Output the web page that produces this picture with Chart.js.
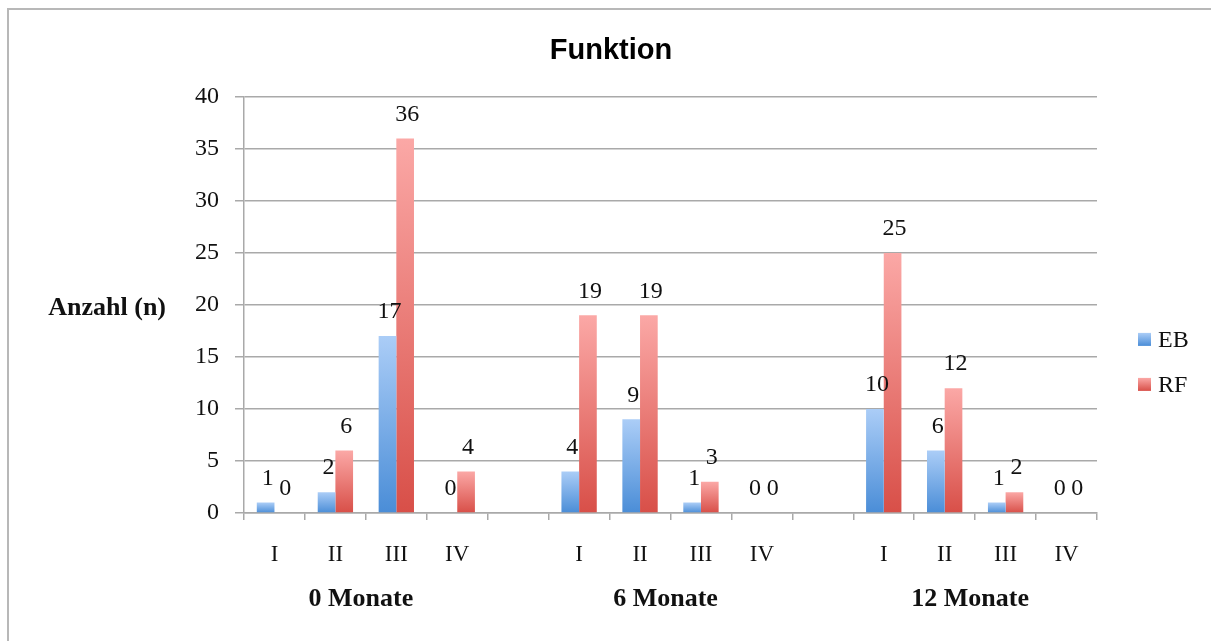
<!DOCTYPE html>
<html>
<head>
<meta charset="utf-8">
<title>Funktion</title>
<script src="https://cdn.jsdelivr.net/npm/chart.js@4.4.1/dist/chart.umd.min.js"></script>
<style>
  html, body { margin: 0; padding: 0; background: #fff; overflow: hidden; }
  #wrap { position: relative; width: 1211px; height: 641px; }
  #frame { position: absolute; left: 7px; top: 8px; width: 1230px; height: 660px;
           border: 2px solid #b8b8b8; box-sizing: border-box; pointer-events: none; }
  canvas { position: absolute; left: 0; top: 0; }
</style>
</head>
<body>
<div id="wrap">
  <canvas id="chart" width="1211" height="641"></canvas>
  <div id="frame"></div>
</div>
<script>
// Categories: four function classes per time point, with an empty slot between time points
const categories = ['I', 'II', 'III', 'IV', '', 'I', 'II', 'III', 'IV', '', 'I', 'II', 'III', 'IV'];
// Time points and the category indices each one spans
const groupLabels = ['0 Monate', '6 Monate', '12 Monate'];
const groupFirst = [0, 5, 10];
const groupLast = [3, 8, 13];
// Counts per series
const ebValues = [1, 2, 17, 0, null, 4, 9, 1, 0, null, 10, 6, 1, 0];
const rfValues = [0, 6, 36, 4, null, 19, 19, 3, 0, null, 25, 12, 2, 0];
// Value axis
const yMin = 0;
const yMax = 40;
const yStep = 5;

const SERIF = '"Liberation Serif", "Times New Roman", serif';
const SANS = '"Liberation Sans", Arial, sans-serif';
const GRID = '#a9a9a9';

const palette = {
  EB: { top: '#abcdf7', bottom: '#4a8dd7' },
  RF: { top: '#fba8a6', bottom: '#d84f48' }
};

// Vertical gradient from the bar's top down to the zero line
function barFill(colors) {
  return (ctx) => {
    const chart = ctx.chart;
    if (!chart.chartArea || ctx.type !== 'data' || ctx.raw == null) return colors.bottom;
    const y = chart.scales.y;
    const y0 = y.getPixelForValue(0);
    const y1 = y.getPixelForValue(ctx.raw);
    if (Math.abs(y0 - y1) < 1) return colors.bottom;
    const g = chart.ctx.createLinearGradient(0, y1, 0, y0);
    g.addColorStop(0, colors.top);
    g.addColorStop(1, colors.bottom);
    return g;
  };
}

// Numbers written above each bar
const valueLabels = {
  id: 'valueLabels',
  afterDatasetsDraw(chart) {
    const c = chart.ctx;
    c.save();
    c.font = '24px ' + SERIF;
    c.fillStyle = '#111';
    c.textAlign = 'center';
    c.textBaseline = 'middle';
    chart.data.datasets.forEach((ds, i) => {
      chart.getDatasetMeta(i).data.forEach((bar, j) => {
        const v = ds.data[j];
        if (v == null) return;
        c.fillText(String(v), bar.x + 2, bar.y - 24);
      });
    });
    c.restore();
  }
};

// Time-point labels under the categories, horizontal value-axis title and legend
const extraText = {
  id: 'extraText',
  afterDraw(chart) {
    const c = chart.ctx;
    const xs = chart.scales.x;
    const area = chart.chartArea;
    const midY = (area.top + area.bottom) / 2;
    c.save();
    c.fillStyle = '#111';
    c.font = 'bold 26px ' + SERIF;
    c.textAlign = 'center';
    c.textBaseline = 'middle';
    groupLabels.forEach((g, i) => {
      const px = (xs.getPixelForValue(groupFirst[i]) + xs.getPixelForValue(groupLast[i])) / 2 - 5;
      c.fillText(g, px, area.bottom + 86);
    });
    c.textAlign = 'right';
    c.fillText('Anzahl (n)', area.left - 78, midY + 3);

    // legend
    c.textAlign = 'left';
    c.font = '24px ' + SERIF;
    chart.data.datasets.forEach((ds, i) => {
      const cy = midY + 34 + i * 45;
      const bx = area.right + 41;
      const col = palette[ds.label];
      const g = c.createLinearGradient(0, cy - 6, 0, cy + 7);
      g.addColorStop(0, col.top);
      g.addColorStop(1, col.bottom);
      c.fillStyle = g;
      c.fillRect(bx, cy - 6, 13, 13);
      c.fillStyle = '#111';
      c.fillText(ds.label, bx + 20, cy + 2);
    });
    c.restore();
  }
};

new Chart(document.getElementById('chart'), {
  type: 'bar',
  data: {
    labels: categories,
    datasets: [
      { label: 'EB', data: ebValues, backgroundColor: barFill(palette.EB), borderWidth: 0,
        categoryPercentage: 0.58, barPercentage: 1.0 },
      { label: 'RF', data: rfValues, backgroundColor: barFill(palette.RF), borderWidth: 0,
        categoryPercentage: 0.58, barPercentage: 1.0 }
    ]
  },
  options: {
    responsive: false,
    animation: false,
    layout: { padding: { left: 125, right: 114, top: 0, bottom: 0 } },
    plugins: {
      legend: { display: false },
      tooltip: { enabled: false },
      title: {
        display: true,
        text: 'Funktion',
        color: '#000',
        font: { family: SANS, size: 29, weight: 'bold' },
        padding: { top: 34, bottom: 28 }
      }
    },
    scales: {
      x: {
        grid: { drawOnChartArea: false, drawTicks: true, tickLength: 7, color: GRID, lineWidth: 1.5, offset: true },
        border: { color: GRID, width: 1.5 },
        ticks: { color: '#111', font: { family: SERIF, size: 23 }, padding: 21, maxRotation: 0, autoSkip: false },
        afterFit(scale) { scale.height = 128; }
      },
      y: {
        min: yMin,
        max: yMax,
        grid: { color: GRID, lineWidth: 1.5, tickLength: 9 },
        border: { color: GRID, width: 1.5 },
        ticks: { stepSize: yStep, color: '#111', font: { family: SERIF, size: 24 }, padding: 16 },
        afterFit(scale) { scale.width = 119; }
      }
    }
  },
  plugins: [valueLabels, extraText]
});
</script>
</body>
</html>
